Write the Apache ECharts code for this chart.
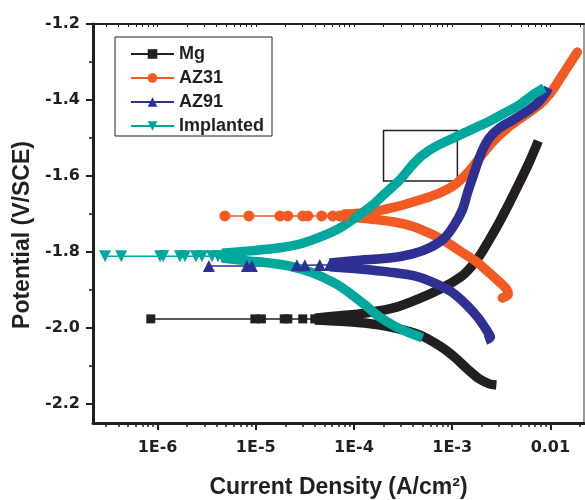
<!DOCTYPE html>
<html><head><meta charset="utf-8">
<script src="https://cdn.jsdelivr.net/npm/echarts@6/dist/echarts.min.js"></script>
<style>html,body{margin:0;padding:0;background:#fff}#c{width:585px;height:500px}</style>
</head><body><div id="c"></div>
<script>
// ---- axis ticks / labels ----
const xTickValues = [1e-6, 1e-5, 1e-4, 1e-3, 1e-2];
const xTickLabels = ['1E-6', '1E-5', '1E-4', '1E-3', '0.01'];
const yTickValues = [-2.2, -2.0, -1.8, -1.6, -1.4, -1.2];
const yMinorTicks = [-2.1, -1.9, -1.7, -1.5, -1.3];
const seriesNames = ['Mg', 'AZ31', 'AZ91', 'Implanted'];
const zoomBox = [[2e-4, -1.48], [1.13e-3, -1.613]];

// ---- data: [current density (A/cm2), potential (V/SCE)] ----
const mgFlat = [[8.53e-7,-1.976],[9.79e-6,-1.976],[1.14e-5,-1.976],[1.95e-5,-1.976],[2.12e-5,-1.976],[3.01e-5,-1.976],[3.99e-5,-1.976]];
const mgCathodic = [[3.99e-5,-1.979],[7.16e-5,-1.982],[1.29e-4,-1.987],[2.31e-4,-1.997],[4.66e-4,-2.018],[7.43e-4,-2.047],[1.05e-3,-2.076],[1.43e-3,-2.108],[1.89e-3,-2.134],[2.39e-3,-2.147],[2.82e-3,-2.150]];
const mgAnodic = [[3.99e-5,-1.974],[7.16e-5,-1.968],[1.29e-4,-1.961],[2.72e-4,-1.945],[5.89e-4,-1.911],[9.40e-4,-1.884],[1.33e-3,-1.858],[1.89e-3,-1.811],[2.39e-3,-1.768],[3.03e-3,-1.721],[3.82e-3,-1.671],[4.83e-3,-1.618],[6.11e-3,-1.563],[7.53e-3,-1.508]];

const az31Flat = [[4.85e-6,-1.705],[8.51e-6,-1.705],[1.76e-5,-1.705],[2.12e-5,-1.705],[3.01e-5,-1.705],[3.39e-5,-1.705],[4.70e-5,-1.705],[6.08e-5,-1.705],[7.16e-5,-1.705],[8.04e-5,-1.705]];
const az31Anodic = [[8.04e-5,-1.700],[1.45e-4,-1.695],[2.59e-4,-1.682],[4.66e-4,-1.663],[7.43e-4,-1.645],[1.05e-3,-1.624],[1.43e-3,-1.592],[1.89e-3,-1.553],[2.57e-3,-1.511],[3.65e-3,-1.474],[5.18e-3,-1.445],[7.71e-3,-1.413],[1.02e-2,-1.379],[1.29e-2,-1.339],[1.59e-2,-1.303],[1.88e-2,-1.274]];
const az31Cathodic = [[8.04e-5,-1.708],[1.45e-4,-1.713],[2.59e-4,-1.721],[4.14e-4,-1.734],[6.17e-4,-1.753],[8.75e-4,-1.774],[1.24e-3,-1.800],[1.77e-3,-1.826],[2.39e-3,-1.855],[3.03e-3,-1.879],[3.56e-3,-1.897],[3.73e-3,-1.911],[3.24e-3,-1.921]];

const az91Flat = [[3.33e-6,-1.837],[8.13e-6,-1.837],[9.12e-6,-1.837],[2.62e-5,-1.835],[3.16e-5,-1.835],[4.48e-5,-1.834],[5.66e-5,-1.834],[6.82e-5,-1.833],[8.04e-5,-1.833],[9.48e-5,-1.833],[1.14e-4,-1.833]];
const az91Anodic = [[5.66e-5,-1.829],[1.22e-4,-1.821],[2.31e-4,-1.816],[3.95e-4,-1.805],[5.89e-4,-1.789],[8.36e-4,-1.763],[1.05e-3,-1.729],[1.27e-3,-1.689],[1.43e-3,-1.645],[1.61e-3,-1.605],[1.81e-3,-1.566],[2.03e-3,-1.532],[2.39e-3,-1.500],[3.03e-3,-1.474],[4.01e-3,-1.455],[5.43e-3,-1.434],[7.19e-3,-1.411],[8.67e-3,-1.387],[9.53e-3,-1.368]];
const az91Cathodic = [[5.66e-5,-1.839],[1.14e-4,-1.845],[2.31e-4,-1.853],[4.14e-4,-1.863],[6.61e-4,-1.882],[9.84e-4,-1.905],[1.40e-3,-1.939],[1.85e-3,-1.974],[2.23e-3,-2.005],[2.45e-3,-2.024],[2.18e-3,-2.032]];

const implFlat = [[2.92e-7,-1.811],[4.26e-7,-1.811],[1.06e-6,-1.811],[1.14e-6,-1.811],[1.69e-6,-1.811],[1.90e-6,-1.811],[2.46e-6,-1.811],[2.83e-6,-1.811],[3.58e-6,-1.811],[4.12e-6,-1.811],[4.52e-6,-1.811]];
const implAnodic = [[4.52e-6,-1.803],[8.71e-6,-1.797],[1.76e-5,-1.789],[2.81e-5,-1.779],[4.48e-5,-1.761],[7.16e-5,-1.737],[1.06e-4,-1.708],[1.55e-4,-1.676],[2.15e-4,-1.642],[2.91e-4,-1.611],[3.85e-4,-1.574],[4.88e-4,-1.547],[6.61e-4,-1.524],[1.13e-3,-1.495],[1.69e-3,-1.474],[2.51e-3,-1.453],[3.56e-3,-1.432],[4.83e-3,-1.413],[6.55e-3,-1.387],[8.67e-3,-1.368]];
const implCathodic = [[4.52e-6,-1.816],[8.71e-6,-1.824],[1.39e-5,-1.829],[2.22e-5,-1.837],[3.80e-5,-1.855],[6.37e-5,-1.882],[9.04e-5,-1.908],[1.29e-4,-1.939],[1.82e-4,-1.971],[2.59e-4,-1.995],[3.68e-4,-2.013],[4.99e-4,-2.026]];

// ---- styling ----
const INK = '#231f20';
const COLORS = {Mg: '#231f20', AZ31: '#f15a22', AZ91: '#2e3192', Implanted: '#00a79d'};
const X_MIN = 2.2e-7, X_MAX = 2.2e-2, Y_MIN = -2.25, Y_MAX = -1.2;
const BAND = 9.5;

const xMinorTicks = [];
for (let d = -7; d <= -2; d++) for (let k = 2; k <= 9; k++) {
  const v = k * Math.pow(10, d);
  if (v > X_MIN && v < X_MAX) xMinorTicks.push(v);
}
const xAllTicks = xMinorTicks.concat(xTickValues);

const tickFont = {fontFamily: 'DejaVu Sans', fontWeight: 'bold', fontSize: 16, color: INK};
const titleFont = {fontFamily: 'Liberation Sans', fontWeight: 'bold', fontSize: 23, color: INK};

function markerSeries(name, data, symbol, size, rotate, extra) {
  return Object.assign({
    name, type: 'line', data, xAxisIndex: 0, yAxisIndex: 0,
    symbol, symbolSize: size, symbolRotate: rotate || 0, showSymbol: true,
    lineStyle: {color: COLORS[name], width: 1.5},
    itemStyle: {color: COLORS[name], borderWidth: 0},
    silent: true
  }, extra || {});
}
function bandSeries(name, data, cap) {
  return {
    name, type: 'line', data, xAxisIndex: 0, yAxisIndex: 0,
    symbol: 'none', smooth: 0.3,
    lineStyle: {color: COLORS[name], width: BAND, cap: cap || 'round', join: 'round'},
    itemStyle: {color: COLORS[name]},
    silent: true
  };
}

const option = {
  animation: false,
  backgroundColor: '#fff',
  grid: {left: 93, top: 24, right: 1, bottom: 77, containLabel: false, outerBoundsMode: 'none'},
  legend: {
    data: seriesNames, orient: 'vertical', left: 115, top: 37,
    itemWidth: 43, itemHeight: 12, itemGap: 6, padding: [8, 8, 1, 15],
    borderColor: INK, borderWidth: 1, borderRadius: 0, selectedMode: false,
    textStyle: {fontFamily: 'Liberation Sans', fontWeight: 'bold', fontSize: 18, color: INK}
  },
  xAxis: [
    {
      type: 'log', logBase: 10, min: X_MIN, max: X_MAX, position: 'bottom',
      axisLine: {onZero: false, lineStyle: {color: INK, width: 3}},
      axisTick: {customValues: xTickValues, length: 7, lineStyle: {color: INK, width: 2}},
      minorTick: {show: false}, splitLine: {show: false},
      axisLabel: Object.assign({
        customValues: xTickValues, margin: 17,
        formatter: function (v) {
          const i = xTickValues.findIndex(t => Math.abs(Math.log10(t) - Math.log10(v)) < 0.01);
          return i >= 0 ? xTickLabels[i] : '';
        }
      }, tickFont),
      name: 'Current Density (A/cm²)', nameLocation: 'middle', nameGap: 53,
      nameTextStyle: titleFont
    },
    {
      type: 'log', logBase: 10, min: X_MIN, max: X_MAX, position: 'bottom',
      axisLine: {show: false, onZero: false},
      axisTick: {customValues: xMinorTicks, length: 4, lineStyle: {color: INK, width: 1.5}},
      axisLabel: {show: false}, splitLine: {show: false}
    },
    {
      type: 'log', logBase: 10, min: X_MIN, max: X_MAX, position: 'top',
      axisLine: {show: true, onZero: false, lineStyle: {color: INK, width: 2}},
      axisTick: {customValues: xAllTicks, inside: true, length: 3, lineStyle: {color: INK, width: 1}},
      axisLabel: {show: false}, splitLine: {show: false}
    }
  ],
  yAxis: [
    {
      type: 'value', min: Y_MIN, max: Y_MAX, position: 'left',
      axisLine: {show: true, onZero: false, lineStyle: {color: INK, width: 3}},
      axisTick: {customValues: yTickValues, length: 7, lineStyle: {color: INK, width: 2}},
      splitLine: {show: false},
      axisLabel: Object.assign({customValues: yTickValues, margin: 13, formatter: v => v.toFixed(1)}, tickFont),
      name: 'Potential (V/SCE)', nameLocation: 'middle', nameGap: 59, nameRotate: 90,
      nameTextStyle: Object.assign({padding: [0, 23, 0, 0]}, titleFont)
    },
    {
      type: 'value', min: Y_MIN, max: Y_MAX, position: 'left',
      axisLine: {show: false, onZero: false},
      axisTick: {customValues: yMinorTicks, length: 4, lineStyle: {color: INK, width: 1.5}},
      axisLabel: {show: false}, splitLine: {show: false}
    },
    {
      type: 'value', min: Y_MIN, max: Y_MAX, position: 'right',
      axisLine: {show: true, onZero: false, lineStyle: {color: '#9a9a9a', width: 2}},
      axisTick: {show: false}, axisLabel: {show: false}, splitLine: {show: false}
    }
  ],
  series: [
    markerSeries('Mg', mgFlat, 'rect', 9, 0, {
      markArea: {
        silent: true,
        itemStyle: {color: 'rgba(0,0,0,0)', borderColor: INK, borderWidth: 1.5},
        data: [[{coord: zoomBox[0]}, {coord: zoomBox[1]}]]
      }
    }),
    bandSeries('Mg', mgCathodic, 'butt'),
    bandSeries('Mg', mgAnodic, 'butt'),
    markerSeries('AZ31', az31Flat, 'circle', 11, 0),
    bandSeries('AZ31', az31Anodic, 'round'),
    bandSeries('AZ31', az31Cathodic, 'round'),
    markerSeries('AZ91', az91Flat, 'triangle', 12, 0),
    bandSeries('AZ91', az91Anodic, 'butt'),
    bandSeries('AZ91', az91Cathodic, 'butt'),
    markerSeries('Implanted', implFlat, 'triangle', 12, 180),
    bandSeries('Implanted', implAnodic, 'butt'),
    bandSeries('Implanted', implCathodic, 'butt')
  ]
};

const chart = echarts.init(document.getElementById('c'), null, {renderer: 'canvas'});
chart.setOption(option);
</script>
</body></html>
